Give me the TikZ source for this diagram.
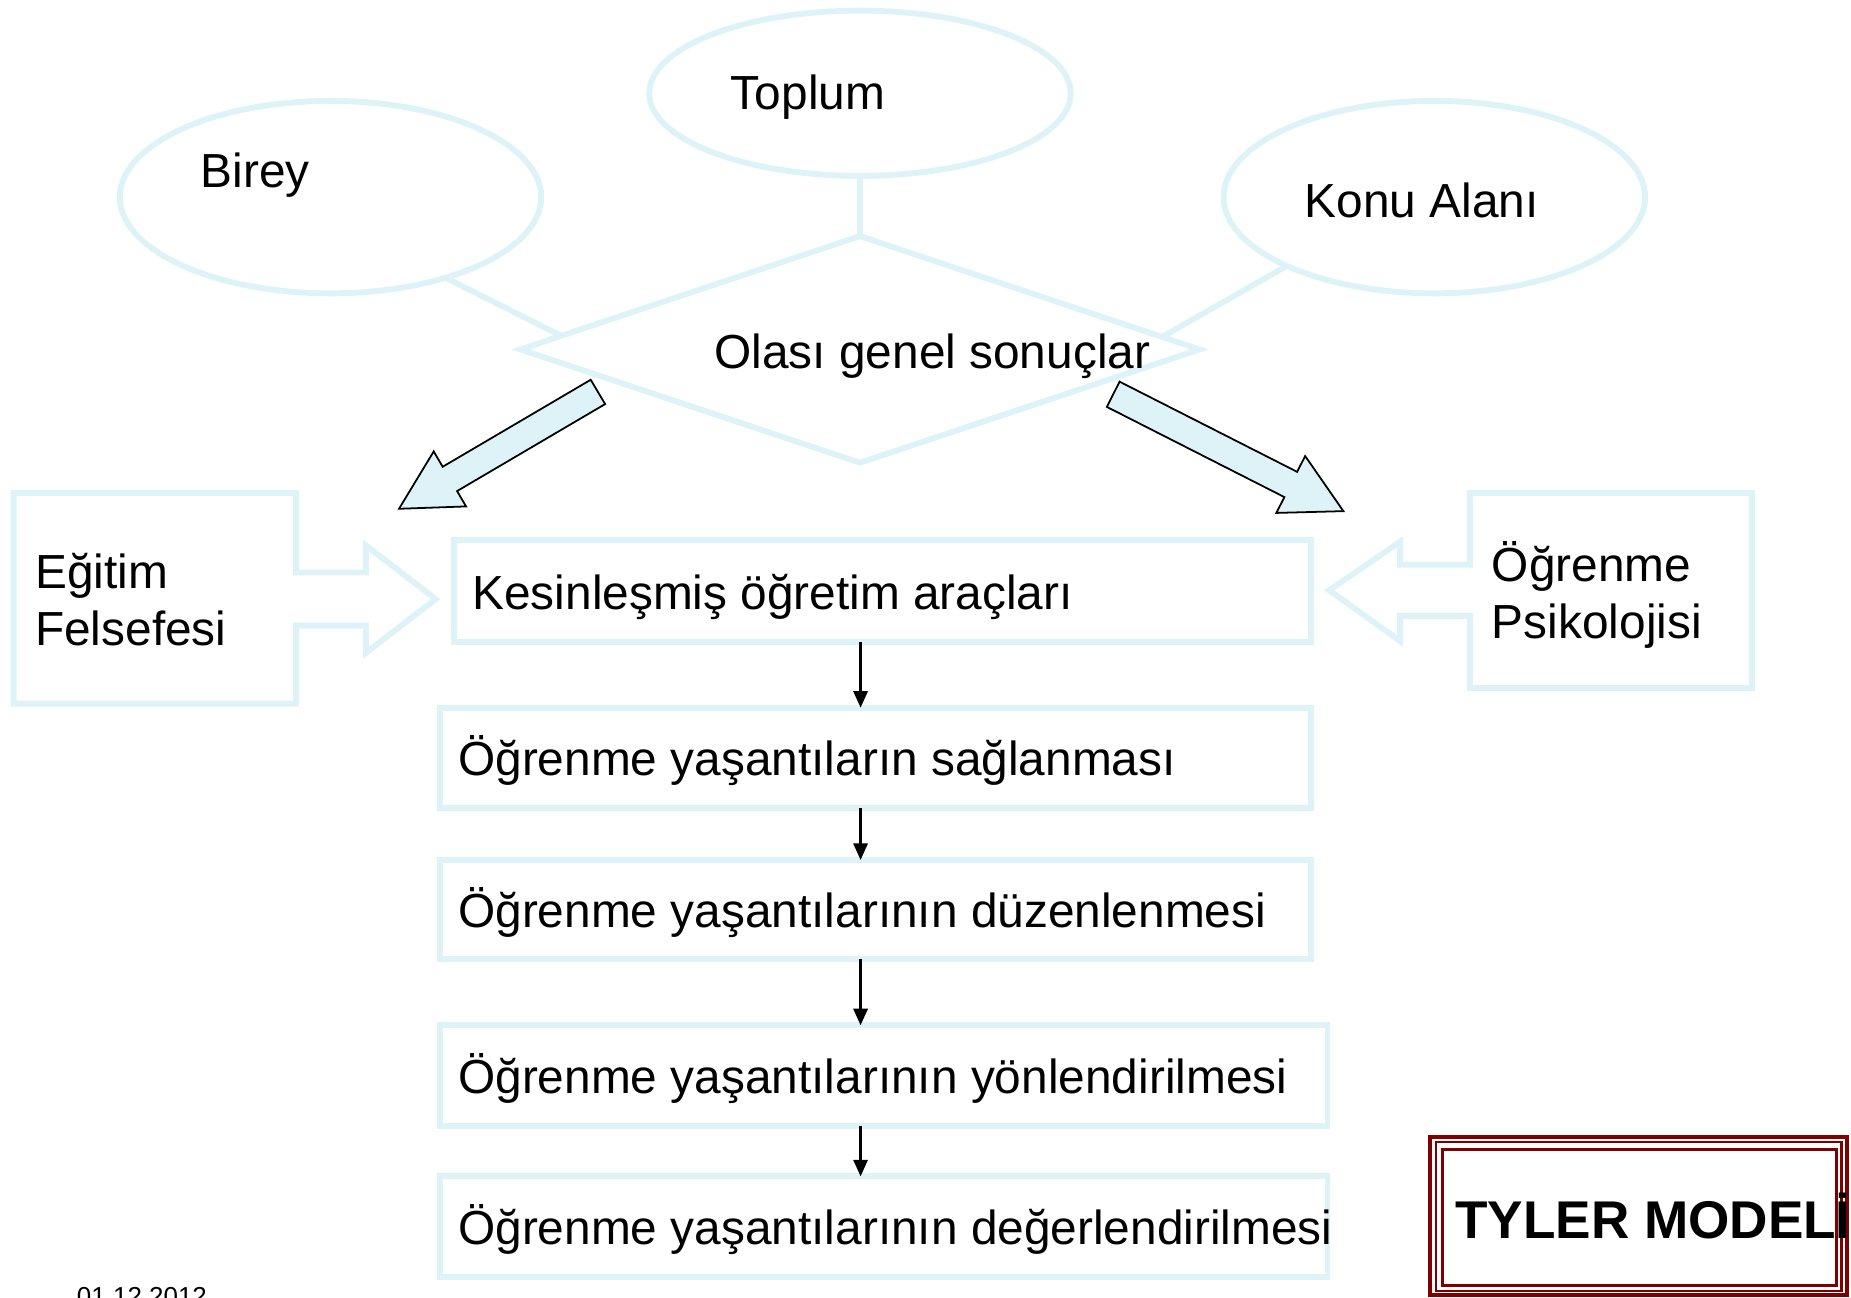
\documentclass[tikz,border=0pt]{standalone}
\usepackage{fontspec}
\setmainfont{Liberation Sans}
\usetikzlibrary{positioning, arrows.meta, shapes.geometric, calc}
\definecolor{paleblue}{RGB}{221,243,248}
\definecolor{darkred}{RGB}{128,0,0}

\begin{document}
\begin{tikzpicture}[x=1pt, y=-1pt,
	bubble/.style={ellipse, draw=paleblue, line width=5pt, inner sep=0pt, outer sep=0pt},
	stage/.style={rectangle, draw=paleblue, line width=5pt, fill=white, inner sep=0pt, outer sep=0pt},
	link/.style={draw=paleblue, line width=5pt, line join=miter},
	word/.style={anchor=base west, inner sep=0pt, align=left, font=\fontsize{40.5}{48}\selectfont},
	fatarrow/.style={fill=paleblue, draw=black, line width=1.5pt, line join=miter},
	flow/.style={-{Triangle[length=14pt, width=12pt]}, line width=2pt}]
						\useasboundingbox (0,0) rectangle (1568,1099);
						\clip (0,0) rectangle (1568,1099);
						
						% Sources
						\node[bubble, minimum width=357, minimum height=140] (toplum) at (728.5,79) {};
						\node[bubble, minimum width=357, minimum height=163] (birey) at (280,167) {};
						\node[bubble, minimum width=357, minimum height=163] (konu) at (1215,167) {};
						\node[word] (toplumtext) at (619,93) {Toplum};
						\node[word] (bireytext) at (170,159) {Birey};
						\node[word] (konutext) at (1105,184) {Konu Alanı};
						
						% Diamond and links
						\node[diamond, draw=paleblue, line width=5pt, minimum width=575, minimum height=192, inner sep=0pt, outer sep=0pt] (genel) at (728.5,296) {};
						\draw[link] (toplum.south) -- (genel.north);
						\draw[link] (birey.-35) -- ($(genel.north)!0.88!(genel.west)$);
						\draw[link] (konu.205) -- ($(genel.north)!0.89!(genel.east)$);
						\node[word] (geneltext) at (605,312) {Olası genel sonuçlar};
						
						% Block arrows
						\draw[fatarrow] (500.4,321.7) -- (375,395.4) -- (367.4,382.4) -- (338,431) -- (394.8,429) -- (387.2,416) -- (512.6,342.3) -- cycle;
						\draw[fatarrow] (948.4,323.3) -- (1098.8,399.7) -- (1105.6,386.3) -- (1138,433) -- (1081.2,434.5) -- (1088,421.1) -- (937.6,344.7) -- cycle;
						
						% Side callouts
						\draw[link] (11.6,417.6) -- (250.9,417.6) -- (250.9,485) -- (310,485) -- (310,462) -- (369,507.5) -- (310,553) -- (310,530) -- (250.9,530) -- (250.9,596) -- (11.6,596) -- cycle;
						\node[word] (felsefe) at (29.6,546.4) {Eğitim\\Felsefesi};
						\draw[link] (1484,417.6) -- (1245.3,417.6) -- (1245.3,478.3) -- (1186,478.3) -- (1186,459) -- (1126,500) -- (1186,543) -- (1186,521.8) -- (1245.3,521.8) -- (1245.3,582.8) -- (1484,582.8) -- cycle;
						\node[word] (psikoloji) at (1263.6,540.5) {Öğrenme\\Psikolojisi};
						
						% Stages
						\node[stage, minimum width=726, minimum height=86] (b1) at (747.5,500.5) {};
						\node[stage, minimum width=738, minimum height=85] (b2) at (741.5,642) {};
						\node[stage, minimum width=738, minimum height=84] (b3) at (741.5,770.5) {};
						\node[stage, minimum width=752, minimum height=85] (b4) at (748.5,911) {};
						\node[stage, minimum width=752, minimum height=85] (b5) at (748.5,1039) {};
						\node[word] (t1) at (400,516) {Kesinleşmiş öğretim araçları};
						\node[word] (t2) at (388,657) {Öğrenme yaşantıların sağlanması};
						\node[word] (t3) at (388,786) {Öğrenme yaşantılarının düzenlenmesi};
						\node[word] (t4) at (388,926) {Öğrenme yaşantılarının yönlendirilmesi};
						\node[word] (t5) at (388,1054) {Öğrenme yaşantılarının değerlendirilmesi};
						
						\coordinate (spine) at (729,0);
						\draw[flow] (b1.south -| spine) -- (b2.north -| spine);
						\draw[flow] (b2.south -| spine) -- (b3.north -| spine);
						\draw[flow] (b3.south -| spine) -- (b4.north -| spine);
						\draw[flow] (b4.south -| spine) -- (b5.north -| spine);
						
						% Title frame
						\draw[darkred, line width=3.5pt] (1211,962.8) rectangle (1564.3,1097);
						\draw[darkred, line width=2pt] (1216.5,967.5) rectangle (1560,1093.4);
						\draw[darkred, line width=2.5pt] (1222,973.6) rectangle (1555.3,1089);
						\node[anchor=base west, inner sep=0pt, font=\fontsize{45}{54}\selectfont\bfseries] (title) at (1232.6,1049) {TYLER MODELİ};
						
						\node[anchor=base west, inner sep=0pt, font=\fontsize{22}{26}\selectfont] (date) at (65,1105.7) {01.12.2012};
					\end{tikzpicture}
\end{document}
